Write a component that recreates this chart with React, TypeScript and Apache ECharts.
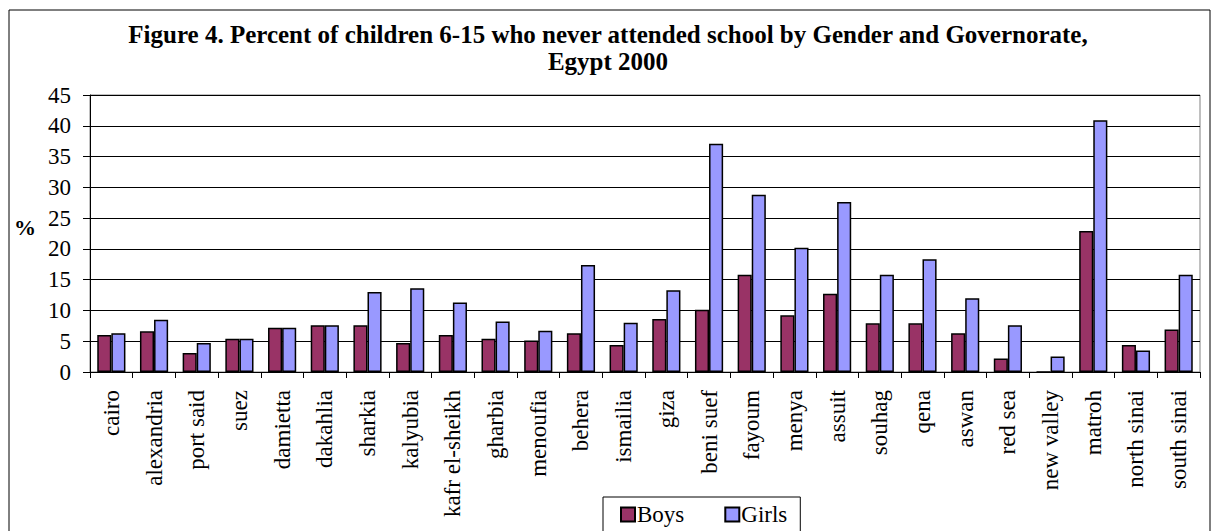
import React, { useEffect, useRef } from "react";
import * as echarts from "echarts";

const categories = [
  "cairo", "alexandria", "port said", "suez", "damietta", "dakahlia", "sharkia",
  "kalyubia", "kafr el-sheikh", "gharbia", "menoufia", "behera", "ismailia", "giza",
  "beni suef", "fayoum", "menya", "assuit", "souhag", "qena", "aswan", "red sea",
  "new valley", "matroh", "north sinai", "south sinai",
];
const boys = [
  6.0, 6.6, 3.1, 5.4, 7.2, 7.6, 7.6, 4.7, 6.0, 5.4, 5.1, 6.3, 4.4, 8.6,
  10.1, 15.8, 9.2, 12.7, 7.9, 7.9, 6.3, 2.2, 0, 22.9, 4.4, 6.9,
];
const girls = [
  6.3, 8.5, 4.7, 5.4, 7.2, 7.6, 13.0, 13.6, 11.3, 8.2, 6.7, 17.4, 8.0, 13.3,
  37.1, 28.8, 20.2, 27.6, 15.8, 18.3, 12.0, 7.6, 2.5, 40.9, 3.5, 15.8,
];
const titleLines = [
  "Figure 4. Percent of children 6-15 who never attended school by Gender and Governorate,",
  "Egypt 2000",
];
const yMin = 0;
const yMax = 45;
const yStep = 5;

const FONT = "Liberation Serif";

export default function App() {
  const ref = useRef<HTMLDivElement>(null);
  useEffect(() => {
    if (!ref.current) return;
    const chart = echarts.init(ref.current, null, { renderer: "svg" });
    chart.setOption({
      animation: false,
      backgroundColor: "#ffffff",
      title: {
        text: titleLines.join("\n"),
        left: "center",
        top: 16,
        textStyle: {
          fontFamily: FONT,
          fontSize: 25,
          fontWeight: "bold",
          color: "#000",
          lineHeight: 27,
        },
      },
      graphic: [
        {
          type: "rect",
          shape: { x: 9, y: 10, width: 1201, height: 540 },
          style: { fill: "none", stroke: "#000", lineWidth: 1 },
          silent: true,
        },
        {
          type: "text",
          left: 14,
          top: 216,
          style: {
            text: "%",
            fontFamily: FONT,
            fontSize: 22,
            fontWeight: "bold",
            fill: "#000",
          },
        },
      ],
      grid: {
        left: 90,
        right: 16,
        top: 95,
        bottom: 159,
        show: true,
        borderColor: "#808080",
        borderWidth: 1,
      },
      legend: {
        data: ["Boys", "Girls"],
        left: 603,
        top: 497,
        icon: "rect",
        itemWidth: 14,
        itemHeight: 14,
        itemGap: 40,
        borderColor: "#000",
        borderWidth: 1,
        padding: [6, 13, 14, 17],
        textStyle: { fontFamily: FONT, fontSize: 23, color: "#000", padding: [0, 0, 0, -3] },
      },
      xAxis: {
        type: "category",
        data: categories,
        axisLine: { lineStyle: { color: "#000", width: 1 } },
        axisTick: { show: true, alignWithLabel: false, length: 6, lineStyle: { color: "#000" } },
        axisLabel: {
          interval: 0,
          rotate: 90,
          fontFamily: FONT,
          fontSize: 23,
          color: "#000",
          margin: 18,
        },
      },
      yAxis: {
        type: "value",
        min: yMin,
        max: yMax,
        interval: yStep,
        axisLine: { show: true, lineStyle: { color: "#000", width: 1 } },
        axisTick: { show: true, length: 7, lineStyle: { color: "#000" } },
        axisLabel: { fontFamily: FONT, fontSize: 23, color: "#000", margin: 19 },
        splitLine: { show: true, lineStyle: { color: "#000", width: 1 } },
      },
      series: [
        {
          name: "Boys",
          type: "bar",
          data: boys,
          barGap: "0%",
          barCategoryGap: "34%",
          itemStyle: { color: "#993366", borderColor: "#000", borderWidth: 1.5 },
        },
        {
          name: "Girls",
          type: "bar",
          data: girls,
          barGap: "0%",
          barCategoryGap: "34%",
          itemStyle: { color: "#9999FF", borderColor: "#000", borderWidth: 1.5 },
        },
      ],
    });
    return () => chart.dispose();
  }, []);
  return (
    <div
      ref={ref}
      style={{ position: "fixed", left: 0, top: 0, width: 1216, height: 531 }}
    />
  );
}
